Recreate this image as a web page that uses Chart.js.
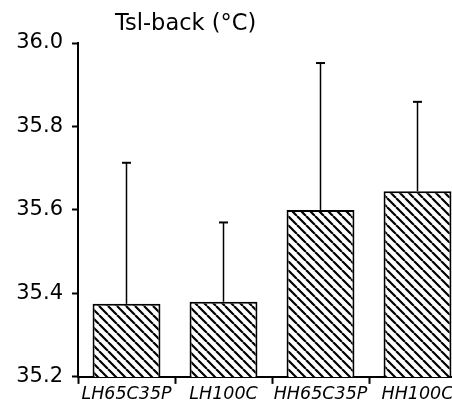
<!DOCTYPE html>
<html>
<head>
<meta charset="utf-8">
<script src="https://cdn.jsdelivr.net/npm/chart.js@4/dist/chart.umd.min.js"></script>
<style>
	html, body { margin: 0; padding: 0; background: #fff; overflow: hidden; }
	#wrap { width: 452px; height: 406px; overflow: hidden; }
</style>
</head>
<body>
<div id="wrap"><canvas id="tslChart" width="466" height="406"></canvas></div>
<script>
const categories = ['LH65C35P', 'LH100C', 'HH65C35P', 'HH100C'];
const means = [35.375, 35.38, 35.60, 35.645];
const errors = [0.338, 0.19, 0.352, 0.214];
const yTicks = [35.2, 35.4, 35.6, 35.8, 36.0];
const chartTitle = 'Tsl-back (\u00B0C)';

const fontFamily = '"DejaVu Sans", "Liberation Sans", Arial, sans-serif';

function hatchPattern() {
	const size = 9;
	const c = document.createElement('canvas');
	c.width = size;
	c.height = size;
	const p = c.getContext('2d');
	p.fillStyle = '#fff';
	p.fillRect(0, 0, size, size);
	p.strokeStyle = '#000';
	p.lineWidth = 2.2;
	p.beginPath();
	for (const off of [-size, 0, size]) {
		p.moveTo(off, 0);
		p.lineTo(off + size, size);
	}
	p.stroke();
	return p.createPattern(c, 'repeat');
}

// upward error whiskers with a small cap
const errorBarPlugin = {
	id: 'errorBarPlugin',
	afterDatasetsDraw(chart) {
		const { ctx } = chart;
		const meta = chart.getDatasetMeta(0);
		const yScale = chart.scales.y;
		ctx.save();
		ctx.strokeStyle = '#000';
		meta.data.forEach((bar, i) => {
			const top = yScale.getPixelForValue(means[i] + errors[i]);
			ctx.lineWidth = 1.5;
			ctx.beginPath();
			ctx.moveTo(bar.x, bar.y);
			ctx.lineTo(bar.x, top);
			ctx.stroke();
			ctx.lineWidth = 2;
			ctx.beginPath();
			ctx.moveTo(bar.x - 4.5, top);
			ctx.lineTo(bar.x + 4.5, top);
			ctx.stroke();
		});
		ctx.restore();
	}
};

const titleTextPlugin = {
	id: 'titleTextPlugin',
	afterDraw(chart) {
		const { ctx, chartArea: { left, top } } = chart;
		ctx.save();
		ctx.font = '22.5px ' + fontFamily;
		ctx.fillStyle = '#000';
		ctx.textAlign = 'left';
		ctx.textBaseline = 'alphabetic';
		ctx.fillText(chartTitle, left + 37, top - 13);
		ctx.restore();
	}
};

function tslChartConfig() {
	const canvas = document.getElementById('tslChart');
	if (!canvas) return;
	const ctx = canvas.getContext('2d');

	new Chart(ctx, {
		type: 'bar',
		data: {
			labels: categories,
			datasets: [{
				data: means,
				backgroundColor: hatchPattern(),
				borderColor: '#000',
				borderWidth: 2,
				borderSkipped: false,
				categoryPercentage: 1,
				barPercentage: 0.7
			}]
		},
		options: {
			responsive: false,
			animation: false,
			devicePixelRatio: 1,
			layout: {
				padding: { top: 43, right: 0, bottom: 0, left: 0 }
			},
			plugins: {
				legend: { display: false },
				tooltip: { enabled: false }
			},
			scales: {
				x: {
					grid: {
						offset: true,
						drawOnChartArea: false,
						drawTicks: true,
						tickLength: 7,
						tickWidth: 2,
						tickColor: '#000'
					},
					border: { color: '#000', width: 2 },
					ticks: {
						color: '#000',
						padding: 1,
						maxRotation: 0,
						autoSkip: false,
						font: { size: 17.5, style: 'italic', family: fontFamily, lineHeight: 1.15 }
					}
				},
				y: {
					min: yTicks[0],
					max: yTicks[yTicks.length - 1],
					afterBuildTicks: scale => {
						scale.ticks = yTicks.map(v => ({ value: v }));
					},
					afterFit: scale => { scale.width = 78; },
					grid: {
						drawOnChartArea: false,
						tickLength: 6,
						tickWidth: 2,
						tickColor: '#000'
					},
					border: { color: '#000', width: 2 },
					ticks: {
						color: '#000',
						padding: 9,
						callback: v => Number(v).toFixed(1),
						font: { size: 21, family: fontFamily }
					}
				}
			}
		},
		plugins: [errorBarPlugin, titleTextPlugin]
	});
}
document.addEventListener('DOMContentLoaded', tslChartConfig);
</script>
</body>
</html>
